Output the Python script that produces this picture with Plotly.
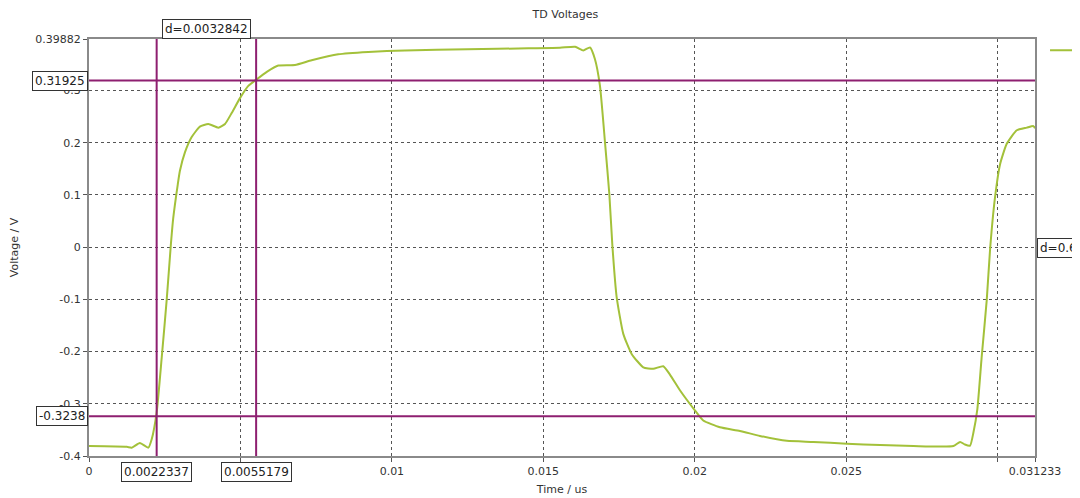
""" TD voltage waveform with cursors """
import plotly.graph_objects as go

# waveform
time_us = [0, 0.001245, 0.00141, 0.00168, 0.00196, 0.00207, 0.002235, 0.0024, 0.002565,
           0.0027, 0.00278, 0.00293, 0.003, 0.00317, 0.00339, 0.00366, 0.00394, 0.00427,
           0.00449, 0.00471, 0.00499, 0.00526, 0.0055, 0.00587, 0.00625, 0.0068, 0.00735,
           0.00823, 0.00922, 0.01043, 0.0125, 0.0145, 0.01555, 0.01605, 0.01632, 0.01654,
           0.0167, 0.01687, 0.01704, 0.01718, 0.01728, 0.01742, 0.01764, 0.01792, 0.0183,
           0.01863, 0.01896, 0.01918, 0.01951, 0.02001, 0.02028, 0.02083, 0.02149, 0.02215,
           0.02304, 0.02392, 0.02502, 0.02612, 0.02722, 0.02854, 0.02876, 0.02892, 0.02909,
           0.0292, 0.02933, 0.02947, 0.02964, 0.02975, 0.02991, 0.03008, 0.0303, 0.03063,
           0.03096, 0.03118, 0.031233]
voltage_v = [-0.381, -0.3825, -0.384, -0.375, -0.384, -0.368, -0.316, -0.212, -0.101,
             0.003, 0.055, 0.120, 0.146, 0.182, 0.211, 0.231, 0.236, 0.229,
             0.236, 0.257, 0.286, 0.309, 0.320, 0.336, 0.348, 0.349, 0.358,
             0.3695, 0.374, 0.377, 0.379, 0.381, 0.382, 0.384, 0.377, 0.3826,
             0.361, 0.309, 0.198, 0.101, 0.003, -0.095, -0.166, -0.205, -0.230,
             -0.233, -0.228, -0.244, -0.274, -0.313, -0.332, -0.345, -0.352, -0.3615,
             -0.371, -0.373, -0.3766, -0.379, -0.381, -0.381, -0.373, -0.378, -0.380,
             -0.355, -0.310, -0.212, -0.101, -0.004, 0.094, 0.159, 0.198, 0.224,
             0.229, 0.232, 0.228]

# cursors
cursor_t = [0.0022337, 0.0055179]
cursor_v = [-0.3238, 0.31925]

# axes
x_range = [0, 0.031233]
y_range = [-0.4, 0.39882]
x_ticks = [0, 0.005, 0.01, 0.015, 0.02, 0.025, 0.03, 0.031233]
x_ticktext = ["0", "0.005", "0.01", "0.015", "0.02", "0.025", "", "0.031233"]
y_ticks = [-0.4, -0.3, -0.2, -0.1, 0, 0.1, 0.2, 0.3, 0.39882]
y_ticktext = ["-0.4", "-0.3", "-0.2", "-0.1", "0", "0.1", "0.2", "0.3", "0.39882"]

FONT = "DejaVu Sans"
CURSOR = "#8e1f70"
BOX = dict(bgcolor="white", bordercolor="#333333", borderwidth=1, borderpad=2,
           font=dict(size=12, color="#222222", family=FONT), showarrow=False)

fig = go.Figure()
fig.add_scatter(x=time_us, y=voltage_v, mode='lines', name='TD Voltage',
                line=dict(color='#a3c13a', width=2, shape='spline', smoothing=0.5))

for t in cursor_t:
    fig.add_vline(x=t, line=dict(color=CURSOR, width=2))
for v in cursor_v:
    fig.add_hline(y=v, line=dict(color=CURSOR, width=2))

# cursor value boxes
for t in cursor_t:
    fig.add_annotation(x=t, xref='x', y=0, yref='paper', yanchor='top', yshift=-6,
                       text=f"{t:g}", **BOX)
for v in cursor_v:
    fig.add_annotation(x=0, xref='paper', xanchor='right', xshift=-1, y=v, yref='y',
                       text=f"{v:g}", **BOX)
dt = cursor_t[1] - cursor_t[0]
dv = cursor_v[1] - cursor_v[0]
fig.add_annotation(x=sum(cursor_t) / 2, xref='x', y=1, yref='paper', yanchor='bottom',
                   text=f"d={dt:.8g}", **BOX)
fig.add_annotation(x=1, xref='paper', xanchor='left', xshift=2, y=sum(cursor_v) / 2,
                   yref='y', text=f"d={dv:.5g}", **BOX)

axis_common = dict(showline=True, linecolor='#8a8a8a', linewidth=2, mirror=True,
                   showgrid=True, gridcolor='#555555', griddash='dot', gridwidth=1,
                   ticks='outside', ticklen=4, tickcolor='#555555', zeroline=False,
                   tickfont=dict(size=11, color='#333333', family=FONT))
fig.update_xaxes(range=x_range, tickvals=x_ticks, ticktext=x_ticktext,
                 title=dict(text='Time / us', font=dict(size=11, color='#333333', family=FONT),
                            standoff=8),
                 **axis_common)
fig.update_yaxes(range=y_range, tickvals=y_ticks, ticktext=y_ticktext,
                 title=dict(text='Voltage / V', font=dict(size=11, color='#333333', family=FONT),
                            standoff=14),
                 **axis_common)

# page body has an 8px margin, so the figure is shifted by that much
fig.update_layout(
    width=1072, height=490,
    margin=dict(l=81, r=45, t=31, b=42, autoexpand=False),
    paper_bgcolor='white', plot_bgcolor='white',
    title=dict(text='TD Voltages', x=0.52, xanchor='center', y=0.995, yanchor='top',
               font=dict(size=11, color='#333333', family=FONT)),
    showlegend=True,
    legend=dict(x=1.0106, xanchor='left', y=1.008, yanchor='top', bgcolor='rgba(0,0,0,0)',
                font=dict(size=11, family=FONT)),
)

fig.write_html("out.html")
